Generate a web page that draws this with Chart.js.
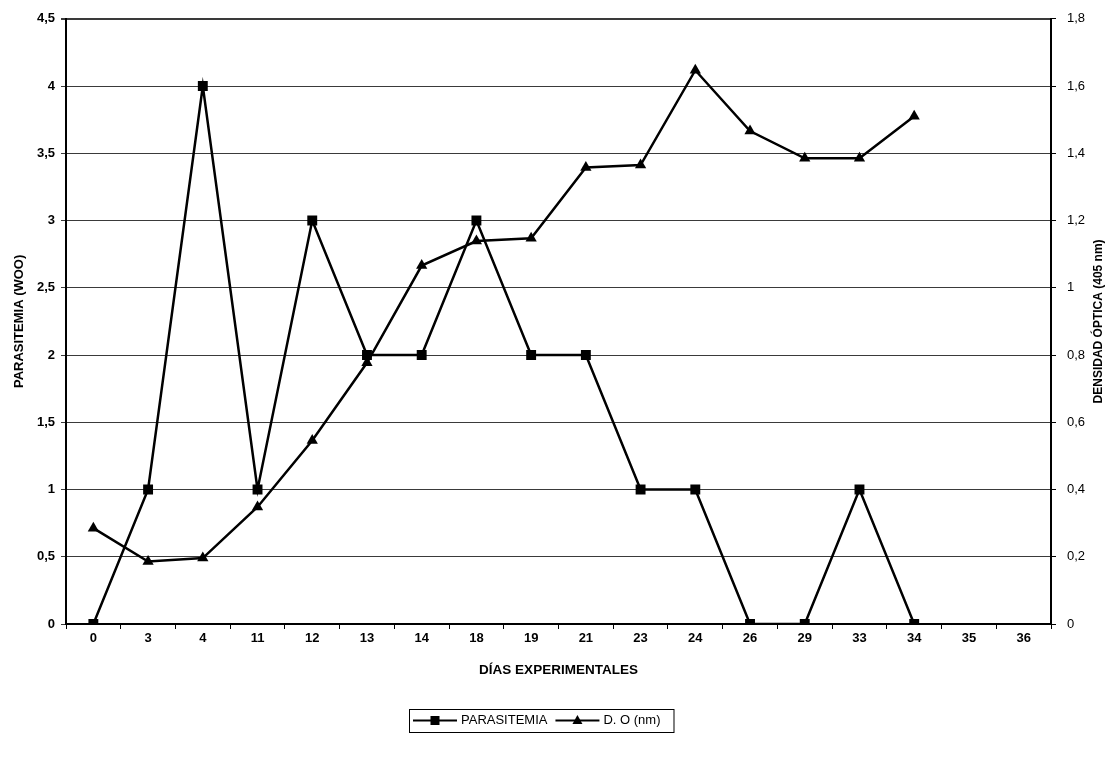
<!DOCTYPE html>
<html>
<head>
<meta charset="utf-8">
<script src="https://cdn.jsdelivr.net/npm/chart.js@4/dist/chart.umd.min.js"></script>
<style>
  html, body { margin: 0; padding: 0; background: #ffffff; }
  canvas { display: block; }
</style>
</head>
<body>
<canvas id="chart" width="1109" height="759"></canvas>
<script>
// Experimental days (categories)
const dias = ['0', '3', '4', '11', '12', '13', '14', '18', '19', '21', '23', '24', '26', '29', '33', '34', '35', '36'];
// Parasitemia per day (left axis)
const parasitemia = [0, 1, 4, 1, 3, 2, 2, 3, 2, 2, 1, 1, 0, 0, 1, 0, null, null];
// Optical density per day (right axis)
const densidadOptica = [0.285, 0.186, 0.196, 0.348, 0.546, 0.777, 1.066, 1.139, 1.147, 1.358, 1.365, 1.647, 1.466, 1.385, 1.385, 1.51, null, null];
// Tick labels
const ticksIzquierda = ['0', '0,5', '1', '1,5', '2', '2,5', '3', '3,5', '4', '4,5'];
const ticksDerecha = ['0', '0,2', '0,4', '0,6', '0,8', '1', '1,2', '1,4', '1,6', '1,8'];

const FONT = "'Liberation Sans', Arial, sans-serif";
const INK = '#000000';
const GRID = '#3a3a3a';

// Legend box and right-hand title drawn on the canvas after the chart
const extras = {
  id: 'extras',
  afterDraw(chart) {
    const ctx = chart.ctx;
    const area = chart.chartArea;
    ctx.save();

    // right axis title, reading bottom to top
    ctx.fillStyle = INK;
    ctx.font = 'bold 12px ' + FONT;
    ctx.textAlign = 'center';
    ctx.textBaseline = 'middle';
    ctx.translate(chart.width - 10, (area.top + area.bottom) / 2);
    ctx.rotate(-Math.PI / 2);
    ctx.fillText('DENSIDAD ÓPTICA (405 nm)', 0, 0);
    ctx.restore();

    // legend
    ctx.save();
    ctx.font = '13px ' + FONT;
    const items = [
      { text: 'PARASITEMIA', style: 'rect' },
      { text: 'D. O (nm)', style: 'triangle' }
    ];
    const boxLeft = 409, boxTop = 709, boxHeight = 23, cy = 720.5;
    const sample = 44;
    let x = boxLeft + 4;
    const drawn = [];
    items.forEach((it, i) => {
      drawn.push({ it, x });
      x += sample + 4 + ctx.measureText(it.text).width + (i < items.length - 1 ? 8 : 13);
    });
    ctx.strokeStyle = INK;
    ctx.lineWidth = 1;
    ctx.strokeRect(boxLeft + 0.5, boxTop + 0.5, x - boxLeft, boxHeight);
    drawn.forEach(({ it, x }) => {
      ctx.strokeStyle = INK;
      ctx.lineWidth = 2;
      ctx.beginPath();
      ctx.moveTo(x, cy);
      ctx.lineTo(x + sample, cy);
      ctx.stroke();
      ctx.fillStyle = INK;
      const mx = x + sample / 2;
      if (it.style === 'rect') {
        ctx.fillRect(mx - 4.5, cy - 4.5, 9, 9);
      } else {
        ctx.beginPath();
        ctx.moveTo(mx, cy - 5.5);
        ctx.lineTo(mx + 5, cy + 3.5);
        ctx.lineTo(mx - 5, cy + 3.5);
        ctx.closePath();
        ctx.fill();
      }
      ctx.textAlign = 'left';
      ctx.textBaseline = 'middle';
      ctx.fillText(it.text, x + sample + 4, cy);
    });
    ctx.restore();
  }
};

new Chart(document.getElementById('chart'), {
  type: 'line',
  data: {
    labels: dias,
    datasets: [
      {
        label: 'PARASITEMIA',
        data: parasitemia,
        yAxisID: 'y',
        borderColor: INK,
        backgroundColor: INK,
        borderWidth: 2.5,
        pointStyle: 'rect',
        pointRadius: 7,
        pointHoverRadius: 7,
        pointBorderWidth: 0,
        tension: 0,
        spanGaps: false
      },
      {
        label: 'D. O (nm)',
        data: densidadOptica,
        yAxisID: 'y1',
        borderColor: INK,
        backgroundColor: INK,
        borderWidth: 2.5,
        pointStyle: 'triangle',
        pointRadius: 6.5,
        pointHoverRadius: 6.5,
        pointBorderWidth: 0,
        tension: 0,
        spanGaps: false
      }
    ]
  },
  options: {
    responsive: false,
    animation: false,
    events: [],
    layout: { padding: { top: 17, left: 0, right: 0, bottom: 0 } },
    plugins: {
      legend: { display: false },
      tooltip: { enabled: false }
    },
    scales: {
      x: {
        type: 'category',
        offset: true,
        afterFit(scale) { scale.height = 135; },
        grid: {
          offset: true,
          drawOnChartArea: false,
          drawTicks: true,
          tickLength: 5,
          color: INK,
          lineWidth: 1
        },
        border: { color: INK, width: 2 },
        ticks: {
          color: INK,
          font: { family: FONT, size: 13, weight: 'bold' },
          padding: 2,
          maxRotation: 0,
          autoSkip: false
        },
        title: {
          display: true,
          text: 'DÍAS EXPERIMENTALES',
          color: INK,
          font: { family: FONT, size: 13.5, weight: 'bold' },
          padding: { top: 0, bottom: 81 }
        }
      },
      y: {
        position: 'left',
        min: 0,
        max: 4.5,
        afterFit(scale) { scale.width = 66; },
        grid: {
          color: GRID,
          lineWidth: (c) => (c.tick && c.tick.value === 4.5 ? 2 : 1),
          tickLength: 5,
          drawTicks: true
        },
        border: { color: INK, width: 2 },
        ticks: {
          stepSize: 0.5,
          color: INK,
          padding: 6,
          font: { family: FONT, size: 13, weight: 'bold' },
          callback: (v, i) => ticksIzquierda[i]
        },
        title: {
          display: true,
          text: 'PARASITEMIA (WOO)',
          color: INK,
          font: { family: FONT, size: 13, weight: 'bold' },
          padding: { top: 12, bottom: 0 }
        }
      },
      y1: {
        position: 'right',
        min: 0,
        max: 1.8,
        afterFit(scale) { scale.width = 58; },
        grid: {
          drawOnChartArea: false,
          color: INK,
          tickLength: 5,
          drawTicks: true
        },
        border: { color: INK, width: 2 },
        ticks: {
          stepSize: 0.2,
          color: INK,
          padding: 11,
          font: { family: FONT, size: 13 },
          callback: (v, i) => ticksDerecha[i]
        }
      }
    }
  },
  plugins: [extras]
});
</script>
</body>
</html>
